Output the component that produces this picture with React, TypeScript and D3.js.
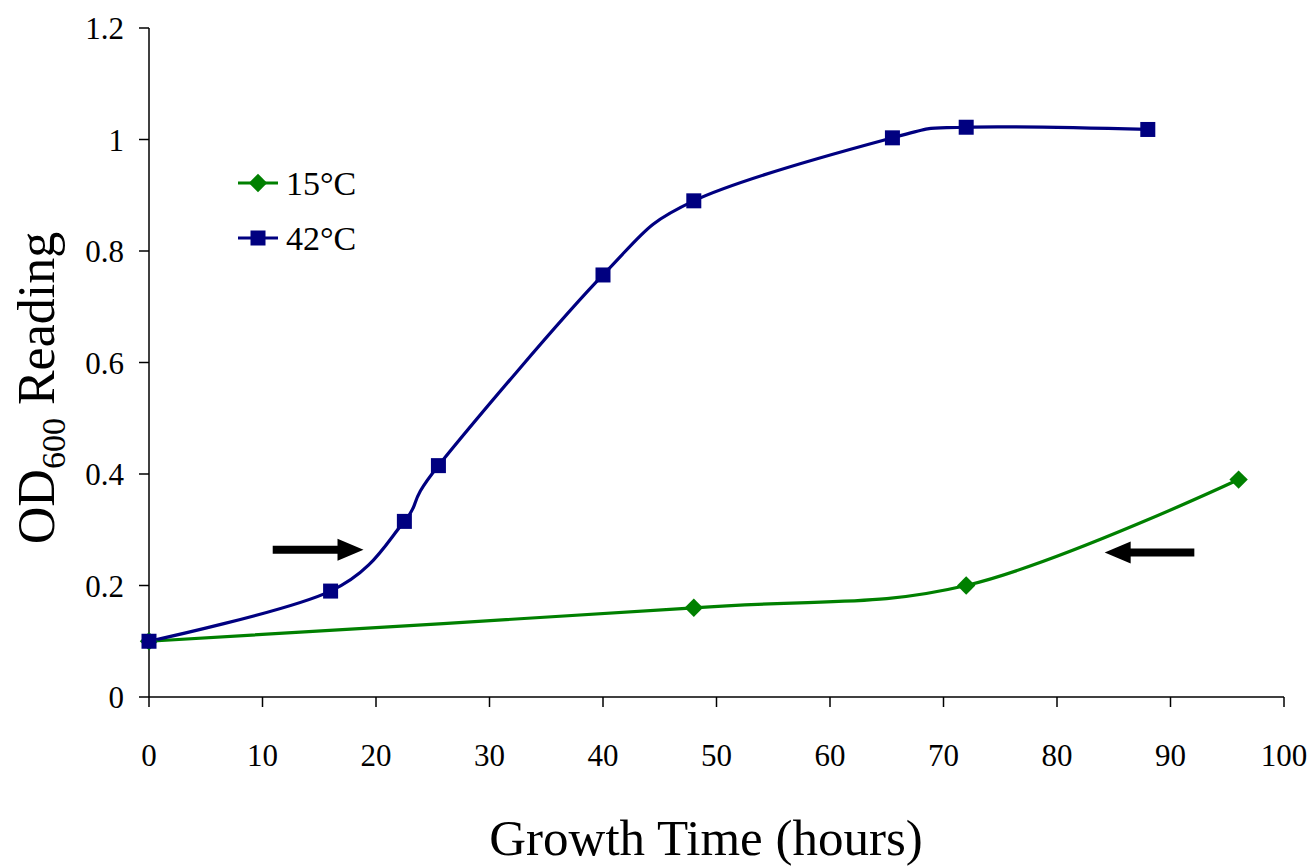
import React from "react";
import * as d3 from "d3";

const xTicks = [0, 10, 20, 30, 40, 50, 60, 70, 80, 90, 100];
const yTicks = [0, 0.2, 0.4, 0.6, 0.8, 1, 1.2];
const yTickLabels = ["0", "0.2", "0.4", "0.6", "0.8", "1", "1.2"];

const hours15 = [0, 48, 72, 96];
const od15 = [0.1, 0.16, 0.2, 0.39];
const hours42 = [0, 16, 22.5, 25.5, 40, 48, 65.5, 72, 88];
const od42 = [0.1, 0.19, 0.315, 0.415, 0.757, 0.89, 1.003, 1.022, 1.018];

const seriesNames = ["15°C", "42°C"];
const seriesColors = ["#008000", "#000080"];

// annotation arrows: [xStart, xEnd(tip), y]
const arrowRight = [10.9, 18.9, 0.264];
const arrowLeft = [92.1, 84.2, 0.259];

export default function App() {
  const W = 1311, H = 867;
  const x = d3.scaleLinear().domain([0, 100]).range([149, 1284]);
  const y = d3.scaleLinear().domain([0, 1.2]).range([697, 28]);
  const line = d3
    .line<[number, number]>()
    .x((d) => x(d[0]))
    .y((d) => y(d[1]))
    .curve(d3.curveCardinal.tension(0));
  const d15 = hours15.map((h, i) => [h, od15[i]] as [number, number]);
  const d42 = hours42.map((h, i) => [h, od42[i]] as [number, number]);
  const font = "'Liberation Serif', 'Times New Roman', serif";

  const arrow = (a: number[], key: string) => {
    const x0 = x(a[0]), x1 = x(a[1]), yy = y(a[2]);
    const dir = Math.sign(x1 - x0);
    const headLen = 26, headHalf = 11, shaftHalf = 4;
    const xb = x1 - dir * headLen;
    const pts = [
      [x0, yy - shaftHalf],
      [xb, yy - shaftHalf],
      [xb, yy - headHalf],
      [x1, yy],
      [xb, yy + headHalf],
      [xb, yy + shaftHalf],
      [x0, yy + shaftHalf],
    ];
    return <polygon key={key} points={pts.map((p) => p.join(",")).join(" ")} fill="#000" />;
  };

  return (
    <svg width={W} height={H} style={{ position: "absolute", left: 0, top: 0, background: "#fff" }} fontFamily={font}>
      {/* axes */}
      <line x1={149} x2={149} y1={28} y2={697} stroke="#000" strokeWidth={1.5} />
      <line x1={149} x2={1284} y1={697} y2={697} stroke="#000" strokeWidth={1.5} />
      {yTicks.map((t, i) => (
        <g key={"y" + i}>
          <line x1={139} x2={149} y1={y(t)} y2={y(t)} stroke="#000" strokeWidth={1.5} />
          <text x={124} y={y(t) + 11} fontSize={31} textAnchor="end">{yTickLabels[i]}</text>
        </g>
      ))}
      {xTicks.map((t, i) => (
        <g key={"x" + i}>
          <line x1={x(t)} x2={x(t)} y1={697} y2={707} stroke="#000" strokeWidth={1.5} />
          <text x={x(t)} y={766} fontSize={31} textAnchor="middle">{t}</text>
        </g>
      ))}
      <text x={706} y={855} fontSize={51} textAnchor="middle">Growth Time (hours)</text>
      <text transform="translate(54,388) rotate(-90)" fontSize={52} textAnchor="middle">
        OD<tspan fontSize={34} dy={11}>600</tspan><tspan dy={-11}> Reading</tspan>
      </text>

      {/* series */}
      <path d={line(d15) || ""} fill="none" stroke={seriesColors[0]} strokeWidth={3.2} />
      <path d={line(d42) || ""} fill="none" stroke={seriesColors[1]} strokeWidth={3.2} />
      {d15.map((d, i) => (
        <rect key={"m15" + i} x={x(d[0]) - 6.5} y={y(d[1]) - 6.5} width={13} height={13}
          fill={seriesColors[0]} transform={`rotate(45 ${x(d[0])} ${y(d[1])})`} />
      ))}
      {d42.map((d, i) => (
        <rect key={"m42" + i} x={x(d[0]) - 7.5} y={y(d[1]) - 7.5} width={15} height={15} fill={seriesColors[1]} />
      ))}

      {arrow(arrowRight, "ar")}
      {arrow(arrowLeft, "al")}

      {/* legend */}
      <g>
        <line x1={238} x2={278} y1={183} y2={183} stroke={seriesColors[0]} strokeWidth={3.2} />
        <rect x={251.5} y={176.5} width={13} height={13} fill={seriesColors[0]} transform="rotate(45 258 183)" />
        <text x={286} y={195} fontSize={34}>{seriesNames[0]}</text>
        <line x1={238} x2={278} y1={238} y2={238} stroke={seriesColors[1]} strokeWidth={3.2} />
        <rect x={250.5} y={230.5} width={15} height={15} fill={seriesColors[1]} />
        <text x={286} y={250} fontSize={34}>{seriesNames[1]}</text>
      </g>
    </svg>
  );
}
